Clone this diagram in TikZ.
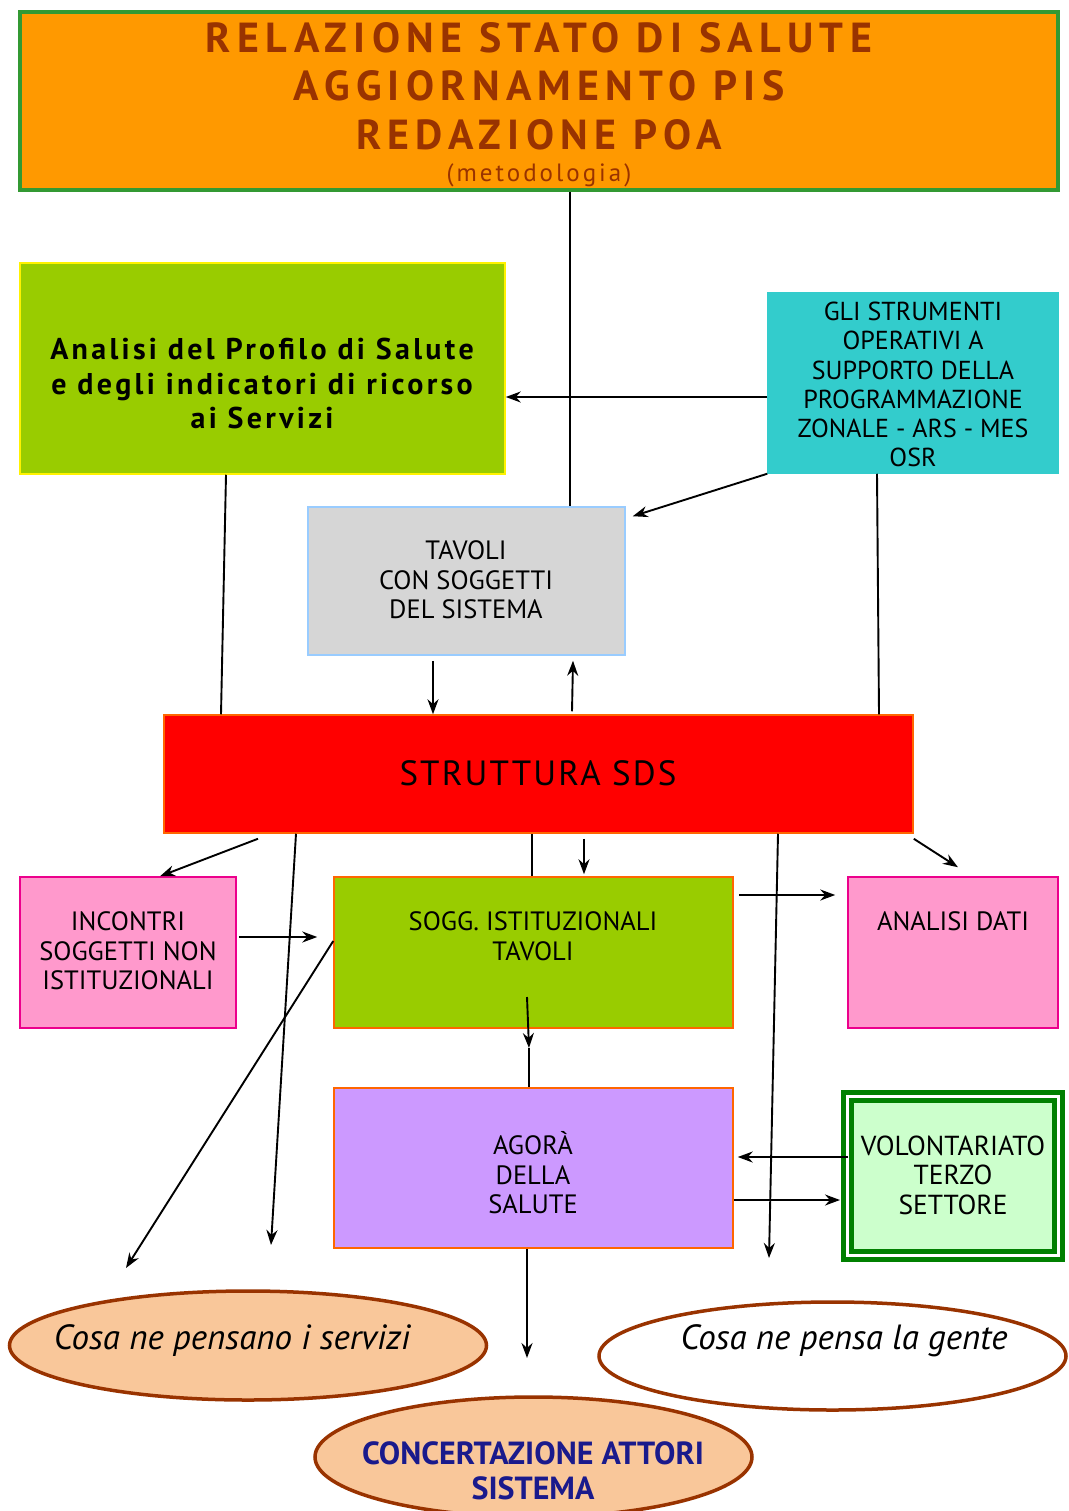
\documentclass[tikz,border=0pt]{standalone}
\usepackage{fontspec}
\setmainfont{PT Sans}
\usetikzlibrary{arrows.meta,shapes.geometric,calc}
\definecolor{torange}{HTML}{FF9900}
\definecolor{tgreen}{HTML}{339933}
\definecolor{tbrown}{HTML}{993300}
\definecolor{lime}{HTML}{99CC00}
\definecolor{teal}{HTML}{33CCCC}
\definecolor{lgray}{HTML}{D6D6D6}
\definecolor{lblue}{HTML}{99CCFF}
\definecolor{bord}{HTML}{FF6600}
\definecolor{pinkf}{HTML}{FF99CC}
\definecolor{lilac}{HTML}{CC99FF}
\definecolor{mint}{HTML}{CCFFCC}
\definecolor{dgreen}{HTML}{008000}
\definecolor{peach}{HTML}{F9C79A}
\definecolor{navy}{HTML}{1A1A8C}
\tikzset{
  box/.style={draw, rectangle, inner sep=0pt, line width=1.5pt},
  txt/.style={inner sep=0pt, align=center, anchor=north},
  boxfont/.style={font={\fontsize{26.5}{29.5}\selectfont}},
  oval/.style={ellipse, draw=tbrown, line width=3.5pt, inner sep=0pt},
  conn/.style={line width=1.9pt},
  arr/.style={line width=1.9pt, -{Stealth[length=15pt,width=11pt]}},
}
\begin{document}
\begin{tikzpicture}[x=1pt,y=-1pt]
\useasboundingbox[fill=white] (0,0) rectangle (1068,1511);

% boxes
\node[box, draw=tgreen, line width=4pt, fill=torange, minimum width=1038pt, minimum height=178pt] (top) at (539,101) {};
\node[box, draw=yellow, fill=lime, minimum width=485pt, minimum height=211pt] (analisi) at (262.5,368.5) {};
\node[box, draw=teal, fill=teal, minimum width=290pt, minimum height=180pt] (strum) at (913,383) {};
\node[box, draw=lblue, fill=lgray, minimum width=317pt, minimum height=148pt] (tavoli) at (466.5,581) {};
\node[box, draw=bord, fill=red, minimum width=749pt, minimum height=118pt] (sds) at (538.5,774) {};
\node[box, draw=magenta, fill=pinkf, minimum width=216pt, minimum height=151pt] (incontri) at (128,952.5) {};
\node[box, draw=bord, fill=lime, minimum width=399pt, minimum height=151pt] (sogg) at (533.5,952.5) {};
\node[box, draw=magenta, fill=pinkf, minimum width=210pt, minimum height=151pt] (dati) at (953,952.5) {};
\node[box, draw=bord, fill=lilac, minimum width=399pt, minimum height=160pt] (agora) at (533.5,1168) {};
\node[box, draw=dgreen, line width=5pt, double=white, double distance=3pt, fill=mint, minimum width=211pt, minimum height=159pt] (volont) at (953,1176) {};

\node[oval, fill=peach, minimum width=477pt, minimum height=109pt] (servizi) at (248,1345.5) {};
\node[oval, fill=white, minimum width=467pt, minimum height=108pt] (gente) at (832.5,1356) {};
\node[oval, fill=peach, minimum width=437pt, minimum height=120pt] (concert) at (533.5,1457) {};

% texts
\node[txt, text=tbrown, font={\fontsize{42}{48.5}\bfseries\addfontfeature{LetterSpace=15}}] (toptxt) at (539,22)
  {RELAZIONE STATO DI SALUTE\\AGGIORNAMENTO PIS\\REDAZIONE POA};
\node[inner sep=0pt, text=tbrown, font={\fontsize{25}{28}\addfontfeature{LetterSpace=12}}] (metod) at (539,175) {(metodologia)};
\node[txt, font={\fontsize{30}{34.5}\bfseries\addfontfeature{LetterSpace=11}}] (analisitxt) at (262,338)
  {Analisi del Profilo di Salute\\e degli indicatori di ricorso\\ai Servizi};
\node[txt, font={\fontsize{26}{29.2}\selectfont}] (strumtxt) at (913,302)
  {GLI STRUMENTI\\OPERATIVI A\\SUPPORTO DELLA\\PROGRAMMAZIONE\\ZONALE - ARS - MES\\OSR};
\node[txt, boxfont] (tavolitxt) at (466,540.5)
  {TAVOLI\\CON SOGGETTI\\DEL SISTEMA};
\node[inner sep=0pt, font={\fontsize{35}{40}\addfontfeature{LetterSpace=6}}] (sdstxt) at (538,773) {STRUTTURA SDS};
\node[txt, boxfont] (incontritxt) at (128,911.5)
  {INCONTRI\\SOGGETTI NON\\ISTITUZIONALI};
\node[txt, boxfont] (soggtxt) at (533,911.5)
  {SOGG. ISTITUZIONALI\\TAVOLI};
\node[txt, boxfont] (datitxt) at (953,911.5) {ANALISI DATI};
\node[txt, boxfont] (agoratxt) at (533,1154.5)
  {\smash{AGOR\`A}\\DELLA\\SALUTE};
\node[txt, font={\fontsize{27.5}{29.5}\selectfont}] (volonttxt) at (953,1135.5)
  {VOLONTARIATO\\TERZO\\SETTORE};
\node[inner sep=0pt, font={\fontsize{35}{38}\itshape}] (servizitxt) at (232,1341) {Cosa ne pensano i servizi};
\node[inner sep=0pt, font={\fontsize{35}{38}\itshape}] (gentetxt) at (844,1341) {Cosa ne pensa la gente};
\node[txt, text=navy, font={\fontsize{32}{35}\bfseries}] (concerttxt) at (533,1441)
  {CONCERTAZIONE ATTORI\\SISTEMA};

% free ends
\coordinate (e1) at (271,1245);
\coordinate (e2) at (769,1258);
\coordinate (e3) at (126,1268);
\coordinate (e4) at (527,1358);
\coordinate (m1) at (529,1048);

% connectors
\draw[conn] (570,0 |- top.south) -- (570,0 |- tavoli.north);
\draw[arr] (strum.west |- 0,397) -- (analisi.east |- 0,397);
\draw[arr] (strum.south west) -- ([xshift=7pt,yshift=-10pt]tavoli.north east);
\draw[conn] (877,0 |- strum.south) -- (879,0 |- sds.north);
\draw[conn] (226,0 |- analisi.south) -- (221,0 |- sds.north);
\draw[arr] ([yshift=-5pt]433,0 |- tavoli.south) -- (433,0 |- sds.north);
\draw[arr] ([yshift=3pt]572,0 |- sds.north) -- ([yshift=-5pt]573,0 |- tavoli.south);
\draw[arr] ([yshift=-5pt]258,0 |- sds.south) -- (160,0 |- incontri.north);
\draw[arr] (296,0 |- sds.south) -- (e1);
\draw[conn] (532,0 |- sds.south) -- (532,0 |- sogg.north);
\draw[arr] ([yshift=-5pt]584,0 |- sds.south) -- ([yshift=2pt]584,0 |- sogg.north);
\draw[arr] (778,0 |- sds.south) -- (e2);
\draw[arr] ([yshift=-5pt]sds.south east) -- ([yshift=9pt]958,0 |- dati.north);
\draw[arr] ([xshift=2pt]incontri.east |- 0,937) -- ([xshift=-16pt]sogg.west |- 0,937);
\draw[arr] (sogg.west |- 0,941) -- (e3);
\draw[arr] ([xshift=5pt]sogg.east |- 0,895) -- ([xshift=-12pt]dati.west |- 0,895);
\draw[arr] (527,997) -- (m1);
\draw[conn] (m1) -- (529,0 |- agora.north);
\draw[arr] ([xshift=3pt]volont.west |- 0,1157) -- ([xshift=4pt]agora.east |- 0,1157);
\draw[arr] (agora.east |- 0,1200) -- ([xshift=-5pt]volont.west |- 0,1200);
\draw[arr] (527,0 |- agora.south) -- (e4);
\end{tikzpicture}
\end{document}
